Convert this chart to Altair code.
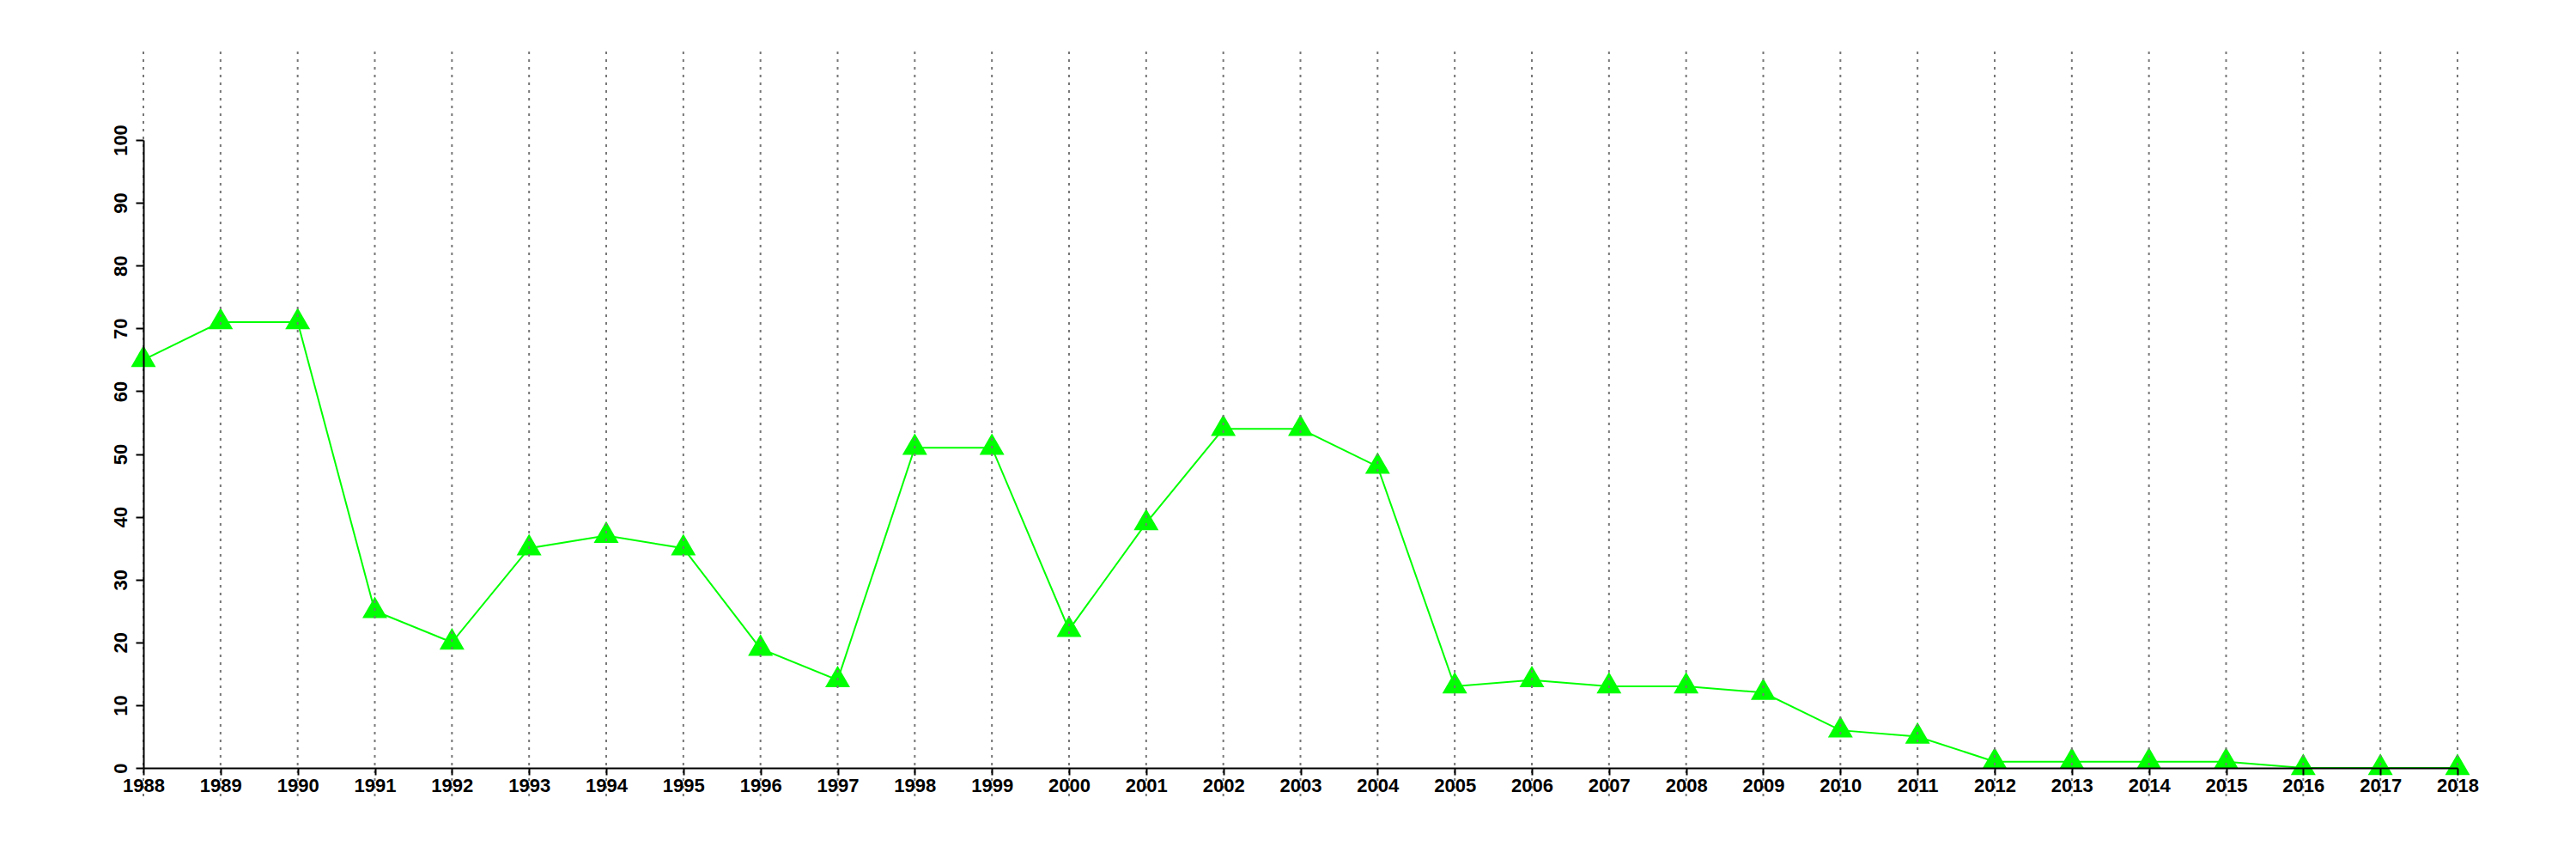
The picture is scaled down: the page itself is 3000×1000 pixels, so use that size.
import altair as alt
import pandas as pd

years = list(range(1988, 2019))
values = [65, 71, 71, 25, 20, 35, 37, 35, 19, 14, 51, 51, 22, 39, 54, 54, 48,
          13, 14, 13, 13, 12, 6, 5, 1, 1, 1, 1, 0, 0, 0]
y_ticks = list(range(0, 101, 10))

df = pd.DataFrame({"year": years, "value": values})

W = 2695
H = 731

xscale = alt.Scale(domain=[1988, 2018], nice=False, zero=False)
yscale = alt.Scale(domain=[0, 100], nice=False, zero=True)

FONT = "Liberation Sans"

xaxis = alt.Axis(values=years, format="d", title=None, grid=False,
                 domainColor="black", domainWidth=2, tickColor="black", tickWidth=2,
                 tickSize=8, labelFont=FONT, labelFontSize=22, labelFontWeight="bold",
                 labelColor="black", labelPadding=2, labelFlush=False, labelOverlap=False,
                 zindex=1)
yaxis = alt.Axis(values=y_ticks, title=None, grid=False,
                 domainColor="black", domainWidth=2, tickColor="black", tickWidth=2,
                 tickSize=9, labelFont=FONT, labelFontSize=22, labelFontWeight="bold",
                 labelColor="black", labelAngle=-90, labelAlign="center",
                 labelBaseline="bottom", labelPadding=6, labelFlush=False,
                 labelOverlap=False, zindex=1)

base = alt.Chart(df)

line = base.mark_line(color="#00ff00", strokeWidth=2).encode(
    x=alt.X("year:Q", scale=xscale, axis=xaxis),
    y=alt.Y("value:Q", scale=yscale, axis=yaxis),
)

tri = "M0,-1.155L-1,0.577L1,0.577Z"
points = base.mark_point(shape=tri, filled=True, color="#00ff00", size=840,
                         opacity=1).encode(
    x=alt.X("year:Q", scale=xscale),
    y=alt.Y("value:Q", scale=yscale),
)

grid = base.mark_rule(color="#777777", strokeWidth=2, strokeDash=[3, 6]).encode(
    x=alt.X("year:Q", scale=xscale),
    y=alt.value(-103),
    y2=alt.value(764),
)

chart = alt.layer(line, points, grid).properties(
    width=W, height=H,
    background="white",
    autosize=alt.AutoSizeParams(type="none"),
    padding={"left": 159, "top": 155, "right": 120, "bottom": 80},
).configure_view(stroke="transparent", strokeWidth=0)

chart.save("out.html", embed_options={"renderer": "svg", "actions": False})
